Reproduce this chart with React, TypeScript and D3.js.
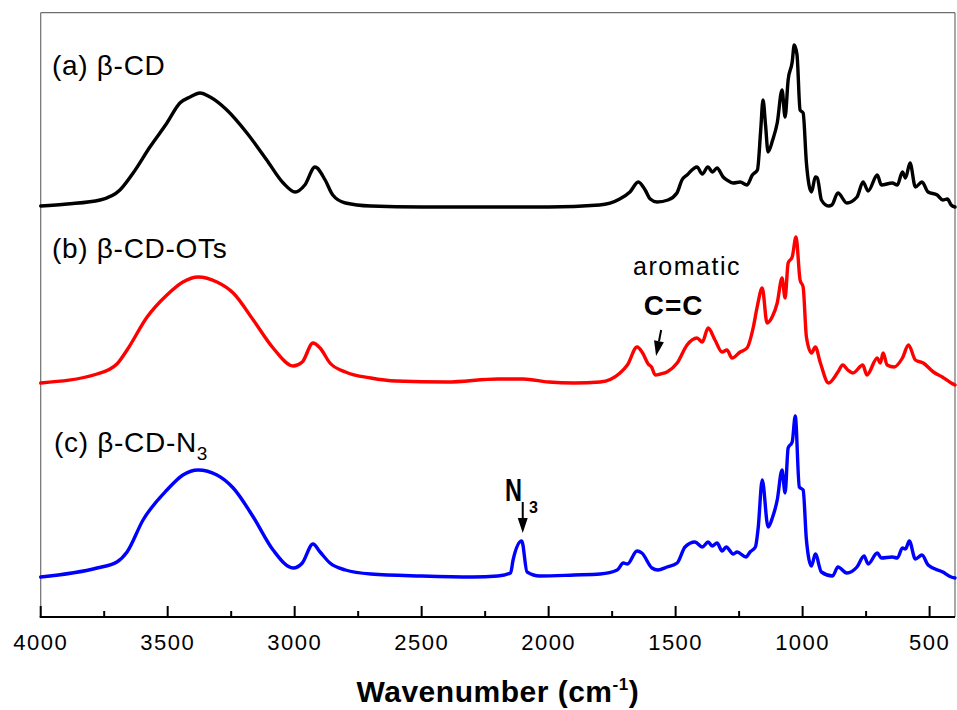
import React from "react";
import * as d3 from "d3";

// wavenumber (cm-1), intensity (a.u., offset stacked)
const seriesA: [number, number][] = [
  [4000, 411], [3896, 413], [3766, 417], [3688, 427], [3636, 444], [3570, 470], [3503, 494],
  [3452, 514], [3412, 520], [3373, 524], [3333, 520], [3267, 507], [3188, 484], [3110, 457],
  [3045, 434], [2998, 425], [2960, 432], [2920, 450], [2880, 437], [2850, 422], [2800, 414],
  [2700, 411], [2500, 410], [2000, 410], [1800, 412], [1720, 418], [1680, 425], [1647, 435],
  [1620, 427], [1600, 418], [1573, 415], [1530, 417], [1495, 424], [1475, 437], [1455, 442],
  [1416, 450], [1395, 443], [1373, 450], [1355, 445], [1337, 449], [1313, 440], [1298, 437],
  [1273, 434], [1246, 435], [1219, 432], [1198, 442], [1178, 447], [1165, 487], [1156, 517],
  [1146, 492], [1136, 465], [1118, 477], [1100, 494], [1081, 527], [1069, 500], [1057, 537],
  [1041, 555], [1033, 572], [1022, 562], [1010, 507], [998, 504], [985, 454], [965, 425],
  [950, 440], [942, 439], [926, 417], [898, 411], [885, 412], [861, 424], [826, 414],
  [786, 420], [762, 435], [742, 426], [706, 442], [690, 432], [647, 434], [627, 432],
  [607, 445], [595, 439], [577, 454], [556, 430], [530, 435], [506, 425], [470, 422],
  [448, 417], [430, 418], [415, 412], [400, 410],
];

const seriesB: [number, number][] = [
  [4000, 234], [3778, 243], [3700, 253], [3660, 267], [3581, 300], [3503, 322], [3440, 335],
  [3380, 340], [3306, 335], [3242, 324], [3163, 297], [3085, 269], [3006, 251], [2970, 255],
  [2928, 274], [2900, 269], [2861, 254], [2800, 245], [2700, 239], [2600, 236], [2400, 235],
  [2200, 238], [2100, 238], [2000, 235], [1900, 234], [1797, 235], [1719, 244], [1690, 252],
  [1652, 270], [1630, 264], [1608, 253], [1595, 250], [1580, 242], [1560, 243], [1534, 245],
  [1494, 254], [1455, 272], [1416, 279], [1395, 275], [1372, 289], [1345, 277], [1317, 265],
  [1298, 267], [1278, 259], [1246, 265], [1219, 269], [1194, 290], [1179, 310], [1159, 329],
  [1140, 294], [1120, 300], [1100, 314], [1081, 339], [1069, 319], [1057, 354], [1041, 360],
  [1026, 380], [1010, 337], [998, 330], [985, 280], [965, 264], [950, 270], [930, 254],
  [898, 234], [861, 245], [842, 252], [822, 247], [802, 244], [763, 252], [747, 242],
  [706, 259], [694, 254], [683, 264], [667, 252], [640, 250], [607, 259], [583, 272],
  [556, 257], [525, 254], [485, 245], [450, 240], [415, 234], [400, 232],
];

const seriesC: [number, number][] = [
  [4000, 40], [3778, 49], [3700, 55], [3660, 65], [3597, 97], [3503, 127], [3440, 142],
  [3380, 147], [3306, 142], [3242, 129], [3163, 100], [3085, 67], [3006, 49], [2970, 54],
  [2928, 73], [2900, 65], [2861, 54], [2800, 47], [2700, 43], [2500, 41], [2300, 40],
  [2200, 41], [2150, 44], [2140, 57], [2106, 76], [2085, 45], [2035, 41], [1900, 42],
  [1797, 43], [1730, 47], [1706, 54], [1690, 53], [1652, 66], [1633, 64], [1593, 49],
  [1570, 47], [1534, 50], [1494, 54], [1463, 70], [1424, 75], [1395, 70], [1372, 75],
  [1356, 71], [1337, 74], [1317, 66], [1301, 70], [1273, 63], [1258, 65], [1223, 60],
  [1207, 65], [1186, 70], [1175, 89], [1159, 137], [1136, 90], [1118, 100], [1100, 117],
  [1081, 147], [1069, 124], [1057, 169], [1041, 175], [1029, 201], [1013, 130], [998, 127],
  [985, 77], [965, 51], [950, 63], [926, 45], [882, 41], [861, 50], [826, 44], [786, 50],
  [758, 61], [742, 53], [706, 64], [690, 59], [647, 60], [627, 59], [607, 69], [595, 68],
  [580, 76], [556, 58], [530, 62], [506, 52], [448, 45], [415, 40], [400, 39],
];

const seriesColors = ["#000000", "#ff0000", "#0000ff"];
const majorTicks = [4000, 3500, 3000, 2500, 2000, 1500, 1000, 500];
const minorTicks = [3750, 3250, 2750, 2250, 1750, 1250, 750];

const W = 957;
const H = 710;
const left = 40.7;
const right = 955;
const top = 12.7;
const bottom = 617;

export default function App() {
  const x = d3.scaleLinear().domain([4000, 400]).range([left, right]);
  const y = d3.scaleLinear().domain([0, bottom - top]).range([bottom, top]);
  const line = d3
    .line<[number, number]>()
    .x((d) => x(d[0]))
    .y((d) => y(d[1]))
    .curve(d3.curveMonotoneX);

  const font = "'Liberation Sans', Arial, sans-serif";
  const series = [seriesA, seriesB, seriesC];

  const arrow = (x1: number, y1: number, x2: number, y2: number) => {
    const ang = Math.atan2(y2 - y1, x2 - x1);
    const hl = 15, hw = 5;
    const bx = x2 - hl * Math.cos(ang), by = y2 - hl * Math.sin(ang);
    const px = -Math.sin(ang) * hw, py = Math.cos(ang) * hw;
    return (
      <g>
        <line x1={x1} y1={y1} x2={bx} y2={by} stroke="#000" strokeWidth={2} />
        <polygon points={`${x2},${y2} ${bx + px},${by + py} ${bx - px},${by - py}`} fill="#000" />
      </g>
    );
  };

  return (
    <svg width={W} height={H} style={{ position: "absolute", left: 0, top: 0, background: "#fff" }}>
      <rect x={0} y={0} width={W} height={H} fill="#fff" />
      <line x1={left} y1={top} x2={right} y2={top} stroke="#6e6e6e" strokeWidth={1.2} />
      <line x1={left} y1={top} x2={left} y2={bottom} stroke="#6e6e6e" strokeWidth={1.2} />
      <line x1={right} y1={top} x2={right} y2={bottom} stroke="#6e6e6e" strokeWidth={1.2} />

      {series.map((s, i) => (
        <path key={i} d={line(s) || ""} fill="none" stroke={seriesColors[i]} strokeWidth={3.4} strokeLinejoin="round" strokeLinecap="round" />
      ))}

      <line x1={left - 1} y1={bottom} x2={right} y2={bottom} stroke="#000" strokeWidth={2.2} />
      {majorTicks.map((t) => (
        <g key={t}>
          <line x1={x(t)} y1={bottom} x2={x(t)} y2={bottom - 11} stroke="#000" strokeWidth={2} />
          <text x={x(t)} y={650} textAnchor="middle" fontFamily={font} fontSize={22} letterSpacing={1.5} fill="#000">
            {t}
          </text>
        </g>
      ))}
      {minorTicks.map((t) => (
        <line key={t} x1={x(t)} y1={bottom} x2={x(t)} y2={bottom - 6} stroke="#000" strokeWidth={2} />
      ))}
      <text x={(left + right) / 2} y={702} textAnchor="middle" fontFamily={font} fontSize={30} fontWeight="bold" letterSpacing={0.5} fill="#000">
        Wavenumber (cm<tspan dy={-12} fontSize={17}>-1</tspan><tspan dy={12}>)</tspan>
      </text>

      <text x={52} y={75} fontFamily={font} fontSize={28} letterSpacing={0.7} fill="#000">(a) β-CD</text>
      <text x={52} y={258} fontFamily={font} fontSize={28} letterSpacing={0.7} fill="#000">(b) β-CD-OTs</text>
      <text x={54} y={452} fontFamily={font} fontSize={28} letterSpacing={0.7} fill="#000">
        (c) β-CD-N<tspan dy={8} fontSize={19}>3</tspan>
      </text>

      <text x={x(1455)} y={y(342)} textAnchor="middle" fontFamily={font} fontSize={25} letterSpacing={1.5} fill="#000">aromatic</text>
      <text x={x(1508)} y={y(302)} textAnchor="middle" fontFamily={font} fontSize={28} fontWeight="bold" letterSpacing={1} fill="#000">C=C</text>
      {arrow(x(1557), y(287), x(1577), y(261))}

      <text x={x(2172)} y={y(116)} fontFamily={font} fontSize={31} fontWeight="bold" fill="#000" textLength={17} lengthAdjust="spacingAndGlyphs">N</text>
      <text x={x(2077)} y={y(104)} fontFamily={font} fontSize={16} fontWeight="bold" fill="#000">3</text>
      {arrow(x(2102), y(115), x(2102), y(84))}
    </svg>
  );
}
